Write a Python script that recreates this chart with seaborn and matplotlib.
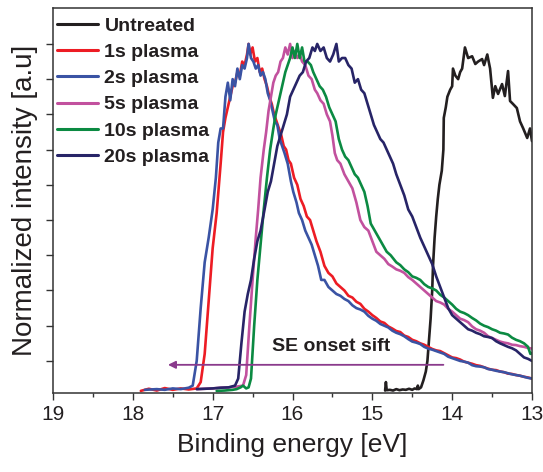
import numpy as np
import pandas as pd
import matplotlib
matplotlib.use("Agg")
import matplotlib.pyplot as plt
import seaborn as sns

# ---------------- data (binding energy [eV], normalized intensity) ----------------
untreated = [(14.84, 0.016), (14.83, 0.040), (14.82, 0.017), (14.78, 0.018), (14.74, 0.016),
             (14.70, 0.020), (14.66, 0.017), (14.62, 0.019), (14.58, 0.018), (14.54, 0.021),
             (14.50, 0.018), (14.47, 0.022), (14.44, 0.020), (14.43, 0.030), (14.42, 0.020),
             (14.39, 0.025), (14.36, 0.045), (14.33, 0.070), (14.31, 0.100), (14.29, 0.160),
             (14.27, 0.220), (14.25, 0.300), (14.24, 0.370), (14.22, 0.450), (14.20, 0.510),
             (14.18, 0.560), (14.16, 0.600), (14.13, 0.640), (14.11, 0.700), (14.105, 0.790),
             (14.08, 0.820), (14.06, 0.850), (14.025, 0.870), (14.00, 0.880), (13.99, 0.930),
             (13.96, 0.910), (13.925, 0.900), (13.90, 0.920), (13.875, 0.930), (13.84, 0.990),
             (13.80, 0.960), (13.75, 0.965), (13.71, 0.943), (13.675, 0.950), (13.625, 0.957),
             (13.60, 0.940), (13.56, 0.970), (13.525, 0.930), (13.49, 0.847), (13.46, 0.880),
             (13.425, 0.858), (13.375, 0.886), (13.34, 0.852), (13.30, 0.923), (13.275, 0.838),
             (13.24, 0.830), (13.19, 0.818), (13.15, 0.780), (13.11, 0.760), (13.06, 0.733),
             (13.025, 0.760), (13.00, 0.724)]

plasma_1s = [(17.90, 0.015), (17.80, 0.021), (17.70, 0.016), (17.60, 0.023), (17.50, 0.018),
             (17.40, 0.022), (17.30, 0.019), (17.20, 0.022), (17.15, 0.040), (17.10, 0.120),
             (17.05, 0.270), (17.00, 0.420), (16.95, 0.520), (16.90, 0.660), (16.87, 0.750),
             (16.84, 0.790), (16.81, 0.820), (16.78, 0.850), (16.75, 0.880), (16.72, 0.890),
             (16.69, 0.920), (16.66, 0.910), (16.63, 0.950), (16.60, 0.940), (16.57, 0.970),
             (16.55, 1.000), (16.53, 0.970), (16.50, 0.990), (16.47, 0.950), (16.44, 0.960),
             (16.41, 0.920), (16.38, 0.930), (16.35, 0.900), (16.32, 0.880), (16.29, 0.850),
             (16.26, 0.830), (16.23, 0.800), (16.20, 0.780), (16.17, 0.760), (16.14, 0.740),
             (16.11, 0.710), (16.08, 0.700), (16.05, 0.670), (16.02, 0.660), (15.98, 0.620),
             (15.94, 0.600), (15.90, 0.560), (15.86, 0.540), (15.82, 0.510), (15.78, 0.500),
             (15.74, 0.470), (15.70, 0.440), (15.65, 0.410), (15.60, 0.370), (15.55, 0.350),
             (15.50, 0.340), (15.45, 0.320), (15.40, 0.310), (15.35, 0.300), (15.30, 0.285),
             (15.25, 0.280), (15.20, 0.268), (15.15, 0.262), (15.10, 0.248), (15.05, 0.240),
             (15.00, 0.230), (14.95, 0.222), (14.90, 0.212), (14.85, 0.208), (14.80, 0.198),
             (14.75, 0.192), (14.70, 0.185), (14.65, 0.182), (14.60, 0.172), (14.55, 0.168),
             (14.50, 0.160), (14.45, 0.156), (14.40, 0.150), (14.35, 0.146), (14.30, 0.140),
             (14.25, 0.134), (14.20, 0.130), (14.15, 0.128), (14.10, 0.122), (14.05, 0.116),
             (14.00, 0.110), (13.95, 0.108), (13.90, 0.104), (13.85, 0.098), (13.80, 0.095),
             (13.75, 0.092), (13.70, 0.088), (13.65, 0.086), (13.60, 0.082), (13.55, 0.078),
             (13.50, 0.075), (13.45, 0.074), (13.40, 0.070), (13.35, 0.068), (13.30, 0.064),
             (13.25, 0.063), (13.20, 0.060), (13.15, 0.058), (13.10, 0.055), (13.05, 0.053),
             (13.00, 0.050)]

plasma_2s = [(17.85, 0.018), (17.70, 0.020), (17.60, 0.018), (17.50, 0.022), (17.40, 0.020),
             (17.30, 0.024), (17.25, 0.030), (17.20, 0.100), (17.15, 0.250), (17.10, 0.380),
             (17.05, 0.450), (17.00, 0.530), (16.96, 0.620), (16.93, 0.720), (16.90, 0.760),
             (16.87, 0.760), (16.84, 0.850), (16.81, 0.890), (16.78, 0.840), (16.75, 0.900),
             (16.72, 0.880), (16.69, 0.930), (16.66, 0.900), (16.63, 0.940), (16.60, 0.930),
             (16.57, 0.960), (16.55, 1.000), (16.52, 0.960), (16.49, 0.950), (16.46, 0.930),
             (16.43, 0.940), (16.40, 0.910), (16.37, 0.920), (16.34, 0.900), (16.31, 0.860),
             (16.28, 0.840), (16.25, 0.810), (16.22, 0.780), (16.19, 0.770), (16.16, 0.730),
             (16.13, 0.710), (16.10, 0.690), (16.06, 0.660), (16.02, 0.610), (15.99, 0.580),
             (15.95, 0.550), (15.92, 0.520), (15.88, 0.500), (15.84, 0.470), (15.80, 0.450),
             (15.76, 0.430), (15.72, 0.400), (15.68, 0.370), (15.64, 0.330), (15.60, 0.330),
             (15.55, 0.310), (15.50, 0.300), (15.45, 0.290), (15.40, 0.285), (15.35, 0.276),
             (15.30, 0.270), (15.25, 0.258), (15.20, 0.250), (15.15, 0.246), (15.10, 0.240),
             (15.05, 0.228), (15.00, 0.220), (14.95, 0.214), (14.90, 0.205), (14.85, 0.200),
             (14.80, 0.195), (14.75, 0.186), (14.70, 0.180), (14.65, 0.176), (14.60, 0.170),
             (14.55, 0.162), (14.50, 0.155), (14.45, 0.152), (14.40, 0.148), (14.35, 0.140),
             (14.30, 0.135), (14.25, 0.132), (14.20, 0.128), (14.15, 0.124), (14.10, 0.120),
             (14.05, 0.112), (14.00, 0.108), (13.95, 0.104), (13.90, 0.100), (13.85, 0.098),
             (13.80, 0.095), (13.75, 0.088), (13.70, 0.085), (13.65, 0.084), (13.60, 0.082),
             (13.55, 0.077), (13.50, 0.075), (13.45, 0.072), (13.40, 0.070), (13.35, 0.068),
             (13.30, 0.065), (13.25, 0.062), (13.20, 0.060), (13.15, 0.058), (13.10, 0.055),
             (13.05, 0.052), (13.00, 0.050)]

plasma_5s = [(17.20, 0.020), (17.10, 0.021), (17.00, 0.022), (16.90, 0.024), (16.80, 0.025),
             (16.70, 0.027), (16.62, 0.030), (16.58, 0.060), (16.54, 0.200), (16.50, 0.330),
             (16.46, 0.450), (16.43, 0.530), (16.40, 0.620), (16.36, 0.700), (16.33, 0.750),
             (16.30, 0.810), (16.27, 0.850), (16.24, 0.890), (16.21, 0.910), (16.18, 0.920),
             (16.15, 0.950), (16.12, 0.960), (16.09, 0.990), (16.06, 0.970), (16.03, 1.000),
             (16.00, 0.960), (15.97, 0.980), (15.94, 0.960), (15.91, 0.970), (15.88, 0.950),
             (15.84, 0.940), (15.80, 0.910), (15.76, 0.900), (15.72, 0.870), (15.69, 0.860),
             (15.65, 0.840), (15.61, 0.830), (15.57, 0.800), (15.53, 0.780), (15.50, 0.740),
             (15.47, 0.690), (15.44, 0.670), (15.40, 0.660), (15.35, 0.630), (15.30, 0.610),
             (15.25, 0.590), (15.20, 0.550), (15.15, 0.500), (15.10, 0.480), (15.05, 0.470),
             (15.00, 0.440), (14.95, 0.410), (14.90, 0.400), (14.85, 0.390), (14.80, 0.375),
             (14.75, 0.368), (14.70, 0.360), (14.65, 0.356), (14.60, 0.350), (14.55, 0.338),
             (14.50, 0.330), (14.45, 0.320), (14.40, 0.310), (14.35, 0.300), (14.30, 0.290),
             (14.25, 0.280), (14.20, 0.270), (14.15, 0.266), (14.10, 0.260), (14.05, 0.248),
             (14.00, 0.240), (13.95, 0.230), (13.90, 0.220), (13.85, 0.216), (13.80, 0.210),
             (13.75, 0.198), (13.70, 0.190), (13.65, 0.186), (13.60, 0.180), (13.55, 0.170),
             (13.50, 0.165), (13.45, 0.160), (13.40, 0.155), (13.35, 0.152), (13.30, 0.150),
             (13.25, 0.146), (13.20, 0.145), (13.15, 0.142), (13.10, 0.140), (13.05, 0.137),
             (13.00, 0.135)]

plasma_10s = [(16.95, 0.015), (16.85, 0.016), (16.75, 0.018), (16.70, 0.020), (16.65, 0.025),
              (16.62, 0.030), (16.58, 0.022), (16.55, 0.025), (16.52, 0.050), (16.48, 0.200),
              (16.44, 0.330), (16.40, 0.430), (16.36, 0.530), (16.32, 0.620), (16.28, 0.700),
              (16.24, 0.760), (16.21, 0.800), (16.18, 0.830), (16.15, 0.860), (16.12, 0.890),
              (16.09, 0.920), (16.06, 0.940), (16.03, 0.960), (16.00, 0.990), (15.97, 0.960),
              (15.94, 1.000), (15.91, 0.960), (15.88, 0.990), (15.85, 0.950), (15.81, 0.950),
              (15.77, 0.940), (15.74, 0.920), (15.70, 0.900), (15.66, 0.880), (15.62, 0.870),
              (15.58, 0.850), (15.54, 0.820), (15.50, 0.800), (15.46, 0.780), (15.42, 0.730),
              (15.38, 0.700), (15.34, 0.680), (15.30, 0.670), (15.26, 0.650), (15.22, 0.630),
              (15.18, 0.620), (15.14, 0.600), (15.10, 0.580), (15.06, 0.540), (15.02, 0.490),
              (14.97, 0.470), (14.92, 0.450), (14.87, 0.430), (14.82, 0.410), (14.77, 0.400),
              (14.70, 0.380), (14.65, 0.372), (14.60, 0.360), (14.55, 0.352), (14.50, 0.340),
              (14.45, 0.336), (14.40, 0.330), (14.35, 0.318), (14.30, 0.310), (14.25, 0.306),
              (14.20, 0.300), (14.15, 0.288), (14.10, 0.280), (14.05, 0.270), (14.00, 0.260),
              (13.95, 0.248), (13.90, 0.240), (13.85, 0.236), (13.80, 0.230), (13.75, 0.222),
              (13.70, 0.215), (13.65, 0.206), (13.60, 0.200), (13.55, 0.196), (13.50, 0.190),
              (13.45, 0.186), (13.40, 0.180), (13.35, 0.178), (13.30, 0.175), (13.25, 0.166),
              (13.20, 0.160), (13.15, 0.156), (13.10, 0.150), (13.05, 0.140), (13.02, 0.120),
              (13.00, 0.122)]

plasma_20s = [(17.20, 0.020), (17.10, 0.021), (17.00, 0.022), (16.90, 0.024), (16.80, 0.025),
              (16.72, 0.030), (16.68, 0.050), (16.64, 0.150), (16.60, 0.240), (16.56, 0.290),
              (16.52, 0.330), (16.48, 0.390), (16.44, 0.440), (16.40, 0.470), (16.35, 0.530),
              (16.31, 0.580), (16.27, 0.610), (16.23, 0.660), (16.19, 0.710), (16.15, 0.740),
              (16.11, 0.770), (16.07, 0.800), (16.03, 0.850), (15.99, 0.870), (15.95, 0.890),
              (15.91, 0.910), (15.87, 0.920), (15.83, 0.950), (15.79, 0.960), (15.75, 0.990),
              (15.72, 0.980), (15.69, 1.000), (15.65, 0.980), (15.61, 0.990), (15.57, 0.960),
              (15.53, 0.950), (15.49, 0.970), (15.45, 1.000), (15.42, 0.950), (15.38, 0.960),
              (15.34, 0.960), (15.30, 0.940), (15.26, 0.930), (15.22, 0.890), (15.18, 0.900),
              (15.14, 0.870), (15.10, 0.860), (15.06, 0.830), (15.02, 0.800), (14.98, 0.770),
              (14.94, 0.750), (14.90, 0.730), (14.86, 0.720), (14.82, 0.700), (14.78, 0.680),
              (14.74, 0.660), (14.70, 0.630), (14.65, 0.600), (14.60, 0.570), (14.55, 0.530),
              (14.50, 0.510), (14.45, 0.480), (14.40, 0.450), (14.36, 0.430), (14.30, 0.400),
              (14.25, 0.375), (14.20, 0.340), (14.15, 0.310), (14.10, 0.280), (14.05, 0.250),
              (14.00, 0.230), (13.95, 0.220), (13.90, 0.210), (13.85, 0.200), (13.80, 0.190),
              (13.75, 0.186), (13.70, 0.180), (13.65, 0.176), (13.60, 0.170), (13.55, 0.168),
              (13.50, 0.165), (13.45, 0.156), (13.40, 0.150), (13.35, 0.145), (13.30, 0.140),
              (13.25, 0.136), (13.20, 0.130), (13.15, 0.120), (13.10, 0.110), (13.05, 0.106),
              (13.00, 0.100)]

series_names = ["Untreated", "1s plasma", "2s plasma", "5s plasma", "10s plasma", "20s plasma"]
series_data = [untreated, plasma_1s, plasma_2s, plasma_5s, plasma_10s, plasma_20s]
series_colors = ["#231f20", "#ed1c24", "#3a53a4", "#c2519e", "#0b8a42", "#272467"]

arrow_start = 14.11
arrow_end = 17.56
arrow_level = 0.089
annotation_text = "SE onset sift"
annotation_pos = (15.52, 0.14)

x_label = "Binding energy [eV]"
y_label = "Normalized intensity [a.u]"
x_ticks = [19, 18, 17, 16, 15, 14, 13]

# ---------------- build table ----------------
rows = []
for name, pts in zip(series_names, series_data):
    for k, (e, v) in enumerate(pts):
        rows.append({"energy": e, "intensity": v, "sample": name, "order": k})
df = pd.DataFrame(rows)

# ---------------- plot ----------------
sns.set_style("ticks")
plt.rcParams["font.family"] = ["Liberation Sans", "DejaVu Sans"]
text_color = "#231f20"

fig = plt.figure(figsize=(5.43, 4.72), dpi=100)
ax = fig.add_axes([53 / 543, 1 - 393 / 472, 479 / 543, 385 / 472])

sns.lineplot(data=df, x="energy", y="intensity", hue="sample", hue_order=series_names,
             palette=dict(zip(series_names, series_colors)), sort=False, estimator=None,
             units="sample", linewidth=1.9, ax=ax, legend=True)

ax.set_xlim(19, 13)
ax.set_ylim(0.009, 1.102)
ax.set_xticks(x_ticks)
ax.set_xticklabels([str(t) for t in x_ticks])
ax.set_xticks(np.arange(13.5, 19, 1.0), minor=True)
ax.set_yticks(np.arange(0.1, 1.05, 0.1))
ax.set_yticklabels([])

for side in ["left", "right", "top", "bottom"]:
    ax.spines[side].set_visible(True)
    ax.spines[side].set_color("#333333")
    ax.spines[side].set_linewidth(1.1)

ax.tick_params(axis="x", which="major", direction="out", length=5, width=1.0,
               labelsize=15, pad=4, colors="#333333", labelcolor=text_color)
ax.tick_params(axis="x", which="minor", direction="out", length=3, width=1.0, colors="#333333")
ax.tick_params(axis="y", which="major", direction="out", length=5, width=1.0, colors="#333333")
ax.tick_params(top=False, right=False)

ax.set_xlabel(x_label, fontsize=19, color=text_color, labelpad=6)
ax.set_ylabel(y_label, fontsize=20, color=text_color, labelpad=2)

# arrow + annotation
ax.annotate("", xy=(arrow_end, arrow_level), xytext=(arrow_start, arrow_level),
            arrowprops=dict(arrowstyle="-|>", color="#8a3a8c", lw=1.3,
                            mutation_scale=11, shrinkA=0, shrinkB=0))
ax.text(annotation_pos[0], annotation_pos[1], annotation_text, fontsize=14,
        fontweight="bold", color=text_color, ha="center", va="center")

leg = ax.legend(loc="upper left", bbox_to_anchor=(0.008, 0.976), frameon=False,
                borderpad=0, borderaxespad=0, handlelength=2.1, handletextpad=0.35,
                labelspacing=0.44, prop={"weight": "bold", "size": 14})
for line in leg.get_lines():
    line.set_linewidth(2.2)
for t in leg.get_texts():
    t.set_color(text_color)

fig.savefig("out.png", dpi=100)
